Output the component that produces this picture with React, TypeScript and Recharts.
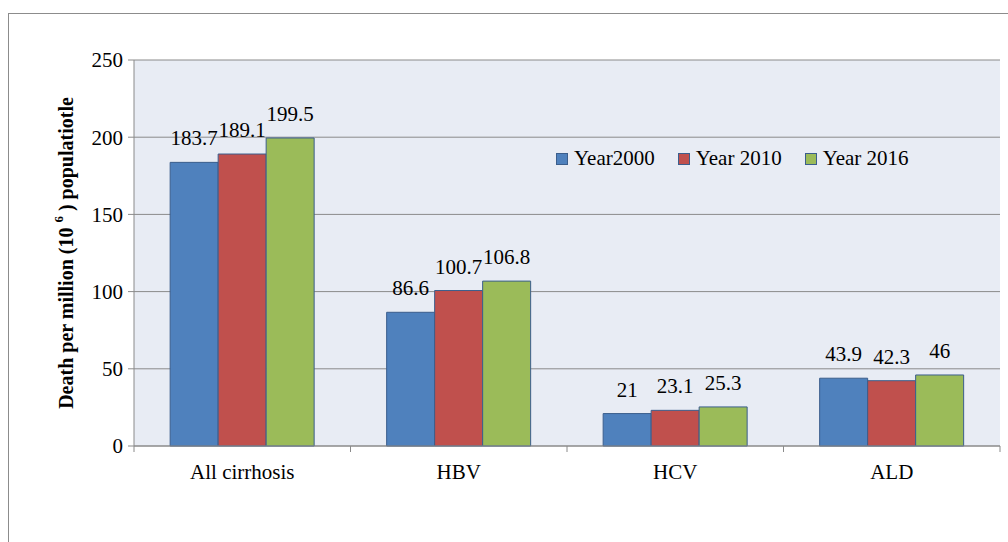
import { BarChart, Bar, XAxis, YAxis, CartesianGrid, Legend, LabelList, Label } from 'recharts'

const categories = ['All cirrhosis', 'HBV', 'HCV', 'ALD']
const year2000 = [183.7, 86.6, 21, 43.9]
const year2010 = [189.1, 100.7, 23.1, 42.3]
const year2016 = [199.5, 106.8, 25.3, 46]
const yTicks = [0, 50, 100, 150, 200, 250]

const series = [
  { key: 'y2000', name: 'Year2000', color: '#4F81BD', values: year2000 },
  { key: 'y2010', name: 'Year 2010', color: '#C0504D', values: year2010 },
  { key: 'y2016', name: 'Year 2016', color: '#9BBB59', values: year2016 },
]

const data = categories.map((name, i) => ({
  name,
  y2000: year2000[i],
  y2010: year2010[i],
  y2016: year2016[i],
}))

const W = 1008
const H = 542
const M = { top: 60, right: 8, bottom: 66, left: 0 }
const Y_AXIS_W = 134
const X_AXIS_H = 30
const BAND = (W - M.right - Y_AXIS_W) / categories.length
const AXIS = '#8a8a8a'
const FONT = '"Liberation Serif", "Times New Roman", serif'

const XTick = (props: any) => {
  const { x, y, payload, index } = props
  const half = BAND / 2
  return (
    <g>
      <line x1={x - half} x2={x - half} y1={y} y2={y + 6} stroke={AXIS} />
      {index === categories.length - 1 && (
        <line x1={x + half} x2={x + half} y1={y} y2={y + 6} stroke={AXIS} />
      )}
      <text x={x} y={y + 33} textAnchor="middle" fontSize={21} fontFamily={FONT} fill="#000">
        {payload.value}
      </text>
    </g>
  )
}

const BarValue = (props: any) => {
  const { x, y, width, value } = props
  return (
    <text
      x={x + width / 2}
      y={y - 17}
      textAnchor="middle"
      fontSize={21}
      fontFamily={FONT}
      fill="#000"
    >
      {value}
    </text>
  )
}

const YTitle = (props: any) => {
  const vb = props.viewBox || { y: M.top, height: H - M.top - M.bottom - X_AXIS_H }
  const cx = 66
  const cy = vb.y + vb.height / 2
  return (
    <text
      x={cx}
      y={cy}
      transform={`rotate(-90 ${cx} ${cy})`}
      textAnchor="middle"
      dominantBaseline="central"
      fontSize={20}
      fontWeight="bold"
      fontFamily={FONT}
      fill="#000"
    >
      Death per million (10 <tspan fontSize={13} dy={-8}>6</tspan>
      <tspan dy={8}> ) populatiotle</tspan>
    </text>
  )
}

const LegendBox = () => (
  <div style={{ display: 'flex', alignItems: 'center', fontSize: 21, fontFamily: FONT, color: '#000' }}>
    {series.map((s) => (
      <div key={s.key} style={{ display: 'flex', alignItems: 'center', marginRight: 23 }}>
        <span
          style={{
            width: 10,
            height: 10,
            background: s.color,
            border: '1px solid #3B5E8C',
            marginRight: 6,
            display: 'inline-block',
          }}
        />
        <span>{s.name}</span>
      </div>
    ))}
  </div>
)

export default function App() {
  return (
    <div
      style={{
        position: 'absolute',
        left: 0,
        top: 0,
        width: W,
        height: H,
        overflow: 'hidden',
        background: '#fff',
        fontFamily: FONT,
      }}
    >
      <div
        style={{
          position: 'absolute',
          left: 8,
          top: 13,
          width: 1100,
          height: 700,
          border: '1px solid #8c8c8c',
        }}
      />
      <div style={{ position: 'absolute', left: 0, top: 0 }}>
        <BarChart
          width={W}
          height={H}
          data={data}
          margin={M}
          barCategoryGap="16.7%"
          barGap={0}
          style={{ fontFamily: FONT }}
        >
          <CartesianGrid vertical={false} stroke={AXIS} fill="#E8ECF4" />
          <XAxis
            dataKey="name"
            height={X_AXIS_H}
            axisLine={{ stroke: AXIS }}
            tickLine={false}
            tickSize={0}
            tickMargin={0}
            tick={<XTick />}
            interval={0}
          />
          <YAxis
            width={Y_AXIS_W}
            domain={[0, 250]}
            ticks={yTicks}
            axisLine={{ stroke: AXIS }}
            tickLine={{ stroke: AXIS }}
            tickSize={6}
            tickMargin={5}
            tick={{ fontSize: 21, fill: '#000', fontFamily: FONT }}
          >
            <Label content={<YTitle />} />
          </YAxis>
          <Legend
            layout="horizontal"
            verticalAlign="middle"
            align="center"
            content={<LegendBox />}
            wrapperStyle={{ position: 'absolute', left: 556, top: 146, width: 'auto' }}
          />
          {series.map((s) => (
            <Bar
              key={s.key}
              dataKey={s.key}
              name={s.name}
              fill={s.color}
              stroke="#3B5E8C"
              strokeWidth={1}
              isAnimationActive={false}
            >
              <LabelList dataKey={s.key} content={<BarValue />} />
            </Bar>
          ))}
        </BarChart>
      </div>
    </div>
  )
}
